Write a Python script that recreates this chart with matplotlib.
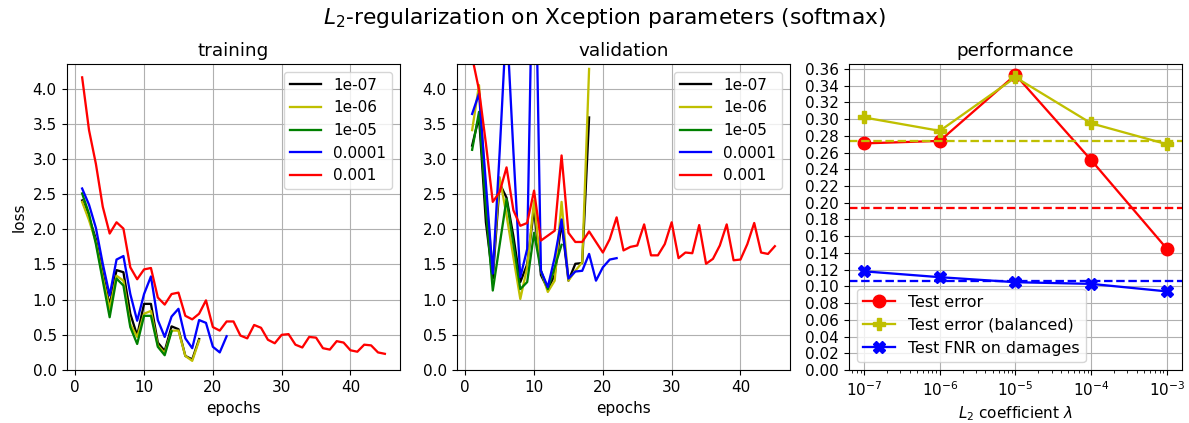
import numpy as np
import matplotlib
matplotlib.use("Agg")
import matplotlib.pyplot as plt
from matplotlib.ticker import MultipleLocator, FormatStrFormatter

# regularization strengths (legend labels)
labels = ["1e-07", "1e-06", "1e-05", "0.0001", "0.001"]
colors = ["k", "y", "g", "b", "r"]

# training loss per epoch
train_1e7 = [2.41, 2.17, 1.86, 1.37, 0.92, 1.42, 1.39, 0.80, 0.49, 0.94, 0.94, 0.39,
             0.27, 0.62, 0.58, 0.20, 0.15, 0.44]
train_1e6 = [2.39, 2.13, 1.82, 1.32, 0.87, 1.34, 1.27, 0.65, 0.47, 0.80, 0.84, 0.35,
             0.24, 0.56, 0.56, 0.20, 0.13, 0.42]
train_1e5 = [2.51, 2.22, 1.79, 1.27, 0.75, 1.30, 1.20, 0.61, 0.37, 0.77, 0.77, 0.33,
             0.21, 0.55]
train_1e4 = [2.58, 2.35, 2.02, 1.51, 1.06, 1.57, 1.62, 1.08, 0.70, 1.08, 1.33, 0.71,
             0.47, 0.76, 0.87, 0.45, 0.31, 0.71, 0.67, 0.33, 0.25, 0.48]
train_1e3 = [4.16, 3.41, 2.93, 2.32, 1.94, 2.10, 2.01, 1.46, 1.29, 1.43, 1.45, 1.03,
             0.93, 1.08, 1.10, 0.77, 0.72, 0.80, 0.99, 0.61, 0.56, 0.69, 0.69, 0.49,
             0.45, 0.64, 0.60, 0.43, 0.38, 0.50, 0.51, 0.36, 0.32, 0.47, 0.46, 0.31,
             0.29, 0.41, 0.39, 0.28, 0.26, 0.36, 0.35, 0.25, 0.23]

# validation loss per epoch
val_1e7 = [3.19, 3.60, 2.10, 1.30, 2.65, 2.45, 1.90, 1.25, 1.50, 2.30, 1.35, 1.15,
           1.35, 2.10, 1.27, 1.51, 1.52, 3.59]
val_1e6 = [3.41, 4.05, 2.50, 1.40, 2.74, 2.20, 1.60, 1.01, 1.46, 2.41, 1.41, 1.11,
           1.27, 2.39, 1.27, 1.41, 1.53, 4.28]
val_1e5 = [3.13, 3.67, 2.30, 1.13, 1.78, 2.43, 1.79, 1.15, 1.25, 1.95, 1.41, 1.15,
           1.46, 1.78]
val_1e4 = [3.64, 3.93, 2.65, 1.37, 3.10, 5.00, 3.10, 1.32, 1.72, 7.00, 1.41, 1.18,
           1.60, 2.14, 1.30, 1.40, 1.41, 1.65, 1.27, 1.46, 1.57, 1.59]
val_1e3 = [4.45, 3.98, 3.22, 2.39, 2.53, 2.88, 2.27, 2.05, 2.09, 2.55, 1.84, 1.91,
           1.98, 3.05, 1.95, 1.82, 1.82, 1.97, 1.82, 1.67, 1.86, 2.17, 1.70, 1.75,
           1.77, 2.07, 1.63, 1.63, 1.79, 2.10, 1.59, 1.67, 1.66, 2.06, 1.51, 1.58,
           1.77, 2.07, 1.56, 1.57, 1.79, 2.09, 1.67, 1.65, 1.76]

# test performance
l2_coef = [1e-7, 1e-6, 1e-5, 1e-4, 1e-3]
test_err = [0.271, 0.274, 0.353, 0.251, 0.145]
test_err_bal = [0.302, 0.286, 0.350, 0.295, 0.270]
test_fnr = [0.118, 0.111, 0.105, 0.103, 0.094]
base_err = 0.194
base_err_bal = 0.274
base_fnr = 0.107

train = [train_1e7, train_1e6, train_1e5, train_1e4, train_1e3]
val = [val_1e7, val_1e6, val_1e5, val_1e4, val_1e3]

plt.rcParams['font.size'] = 11
plt.rcParams['lines.linewidth'] = 1.65
plt.rcParams['xtick.major.size'] = 3.9
plt.rcParams['ytick.major.size'] = 3.9

fig = plt.figure(figsize=(11.89, 4.23), dpi=100)
W, H = 1189., 423.
ax1 = fig.add_axes([67/W, 53/H, 333/W, 306/H])
ax2 = fig.add_axes([457/W, 53/H, 333/W, 306/H])
ax3 = fig.add_axes([849/W, 53/H, 333/W, 306/H])

for ax, data, title in [(ax1, train, "training"), (ax2, val, "validation")]:
    for d, c, lab in zip(data, colors, labels):
        ax.plot(np.arange(1, len(d) + 1), d, color=c, label=lab)
    ax.set_title(title, fontsize=13.2)
    ax.set_xlabel("epochs")
    ax.set_xlim(-1.2, 47.2)
    ax.set_ylim(0, 4.35)
    ax.set_xticks([0, 10, 20, 30, 40])
    ax.grid(True)
    ax.legend(loc="upper right", fontsize=11)
ax1.set_ylabel("loss")

ax3.plot(l2_coef, test_err, "r-o", ms=9, label="Test error")
ax3.plot(l2_coef, test_err_bal, "y-P", ms=9, label="Test error (balanced)")
ax3.plot(l2_coef, test_fnr, "b-X", ms=9, label="Test FNR on damages")
ax3.axhline(base_err, color="r", ls="--")
ax3.axhline(base_err_bal, color="y", ls="--")
ax3.axhline(base_fnr, color="b", ls="--")
ax3.set_xscale("log")
ax3.set_ylim(bottom=0)
ax3.yaxis.set_major_locator(MultipleLocator(0.02))
ax3.yaxis.set_major_formatter(FormatStrFormatter("%.2f"))
ax3.set_xlabel(r"$L_2$ coefficient $\lambda$")
ax3.set_title("performance", fontsize=13.2)
ax3.grid(True)
ax3.legend(loc="lower left", fontsize=11.4)

fig.suptitle(r"$L_2$-regularization on Xception parameters (softmax)", fontsize=15.7,
             x=0.508, y=0.985)
fig.savefig("out.png", dpi=100)
